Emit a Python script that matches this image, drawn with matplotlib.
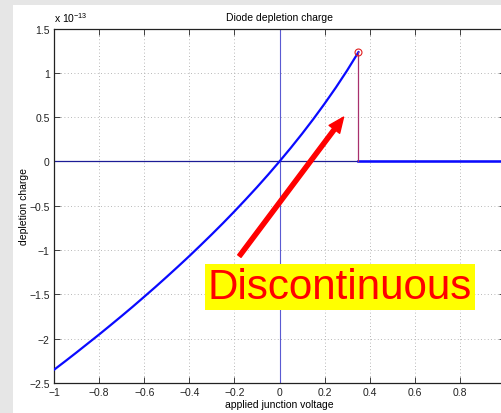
import matplotlib
matplotlib.use('Agg')
from matplotlib import pyplot as plt
from matplotlib import ticker
from matplotlib.patches import Rectangle

plt.rcParams['font.family'] = ['Liberation Sans', 'DejaVu Sans']
plt.rcParams['mathtext.fontset'] = 'custom'
plt.rcParams['mathtext.rm'] = 'Liberation Sans'
plt.rcParams['mathtext.default'] = 'regular'

# applied junction voltage (V) and depletion charge (units of 1e-13)
voltage = [-1.00, -0.95, -0.90, -0.85, -0.80, -0.75, -0.70, -0.65, -0.60, -0.55,
           -0.50, -0.45, -0.40, -0.35, -0.30, -0.25, -0.20, -0.15, -0.10, -0.05,
           0.00, 0.05, 0.10, 0.15, 0.20, 0.25, 0.30, 0.35]
charge = [-2.351, -2.254, -2.155, -2.054, -1.953, -1.849, -1.744, -1.637, -1.527, -1.416,
          -1.302, -1.186, -1.068, -0.946, -0.822, -0.695, -0.564, -0.429, -0.291, -0.148,
          0.000, 0.153, 0.312, 0.478, 0.652, 0.834, 1.027, 1.233]
# after the jump the charge is zero
voltage_after = [0.35, 0.50, 0.75, 1.00]
charge_after = [0.0, 0.0, 0.0, 0.0]

# the tick at 1 falls just past the right edge of the picture
x_ticks = [-1, -0.8, -0.6, -0.4, -0.2, 0, 0.2, 0.4, 0.6, 0.8]
y_ticks = [-2.5, -2, -1.5, -1, -0.5, 0, 0.5, 1, 1.5]

W, H = 501, 414
fig = plt.figure(figsize=(W / 100, H / 100), dpi=100)
fig.patch.set_facecolor('#e6e6e6')
fig.add_artist(Rectangle((13 / W, 0), 1, 1 - 6 / H, transform=fig.transFigure,
                         facecolor='white', edgecolor='none', zorder=-10))

ax = fig.add_axes([54 / W, 30 / H, 451 / W, 354.5 / H])
ax.set_facecolor('white')

# zero axes
ax.axhline(0, color='#1c1c96', lw=0.9, zorder=2)
ax.axvline(0, color='#5a5ad2', lw=0.8, zorder=2)

ax.plot(voltage, charge, color='#0a0aff', lw=1.6, zorder=3)
ax.plot(voltage_after, charge_after, color='#0a0aff', lw=1.8, zorder=3)
ax.plot([voltage[-1], voltage[-1]], [charge[-1], 0], color='#a8306e', lw=0.9, zorder=3)
ax.plot(voltage[-1], charge[-1], 'o', mfc='none', mec='#e02020', ms=5, mew=0.8, zorder=4)

ax.set_xlim(-1, 1)
ax.set_ylim(-2.5, 1.5)
ax.set_xticks(x_ticks)
ax.set_yticks(y_ticks)
fmt = ticker.FuncFormatter(lambda v, p: ('%g' % v).replace('-', '\u2212'))
ax.xaxis.set_major_formatter(fmt)
ax.yaxis.set_major_formatter(fmt)
ax.tick_params(direction='in', length=4, width=0.6, top=True, right=True,
               labelsize=7.5, pad=3, colors='#222222')
ax.grid(True, linestyle=(0, (1, 3)), color='#a0a0a0', lw=0.6)
for s in ax.spines.values():
    s.set_color('#222222')
    s.set_linewidth(0.9)

ax.set_title('Diode depletion charge', fontsize=7.5, pad=6)
ax.set_xlabel('applied junction voltage', fontsize=7.5, labelpad=1)
ax.set_ylabel('depletion charge', fontsize=7.5, labelpad=0)
ax.text(0.0, 1.012, 'x 10$^{-13}$', transform=ax.transAxes, fontsize=7.5,
        ha='left', va='bottom')

ax.annotate('', xy=(0.284, 0.50), xytext=(-0.178, -1.068),
            arrowprops=dict(facecolor='#ff0000', edgecolor='#ff0000',
                            width=3, headwidth=9.5, headlength=11, shrink=0),
            zorder=5)
ax.text(0.267, -1.415, 'Discontinuous', color='#ff0000', fontsize=30.3,
        ha='center', va='center', zorder=6,
        bbox=dict(boxstyle='square,pad=0.07', facecolor='#ffff00', edgecolor='none'))

fig.savefig('out.png', dpi=100, facecolor=fig.get_facecolor())
